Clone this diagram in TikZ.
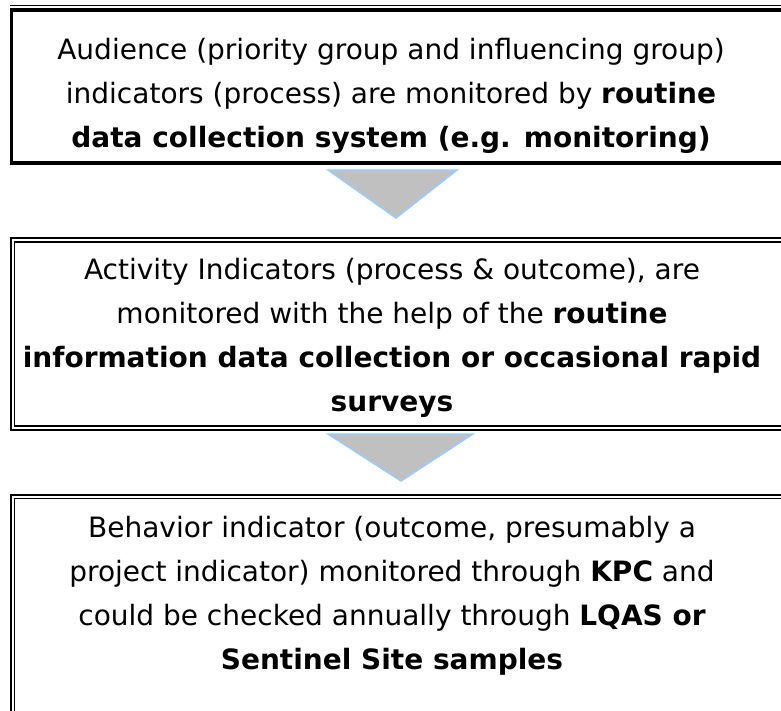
\documentclass[tikz,border=0pt]{standalone}
\usepackage{fontspec}
\setmainfont{DejaVu Sans}
\usepackage{tikz}

\definecolor{arrowgray}{RGB}{192,192,192}
\definecolor{arrowblue}{RGB}{153,204,255}

\begin{document}
\begin{tikzpicture}[x=1pt,y=-1pt,
    boxtext/.style={anchor=base,align=center,font=\fontsize{28}{44}\selectfont},
    arrowtri/.style={fill=arrowgray,draw=arrowblue,line width=1.5pt,line join=miter}]
            \useasboundingbox (0,0) rectangle (781,710);
            \clip (0,0) rectangle (781,710);

            % Premier cadre
            \draw[line width=1.5pt] (10,5.5) -- (800,5.5);
            \draw[line width=3.5pt] (11.5,10) rectangle (800,163);
            \node[boxtext] (audience) at (391,147) {Audience (priority group and influencing group)\\
                indicators (process) are monitored by \textbf{routine}\\
                \textbf{data collection system (e.g. monitoring)}};

            % Fleche 1
            \filldraw[arrowtri] (328,170) -- (457,170) -- (396,218) -- cycle;

            % Deuxieme cadre
            \draw[line width=2pt] (11,238) rectangle (800,430);
            \draw[line width=1.5pt] (14.5,242) rectangle (796,426);
            \node[boxtext] (activity) at (392,411) {Activity Indicators (process \& outcome), are\\
                monitored with the help of the \textbf{routine}\\
                \textbf{information data collection or occasional rapid}\\
                \textbf{surveys}};

            % Fleche 2
            \filldraw[arrowtri] (328,434) -- (473,434) -- (401,481) -- cycle;

            % Troisieme cadre
            \draw[line width=2pt] (11,495) rectangle (800,730);
            \draw[line width=1.5pt] (14.5,498.5) rectangle (796,726);
            \node[boxtext] (behavior) at (392,669) {Behavior indicator (outcome, presumably a\\
                project indicator) monitored through \textbf{KPC} and\\
                could be checked annually through \textbf{LQAS or}\\
                \textbf{Sentinel Site samples}};
        \end{tikzpicture}
\end{document}
